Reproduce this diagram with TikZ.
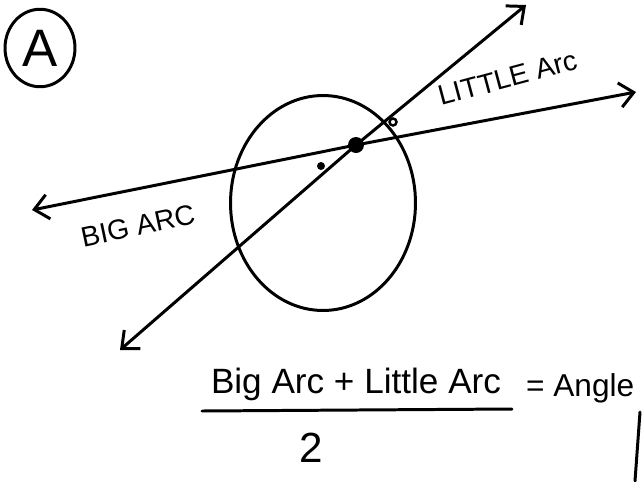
\documentclass[tikz,border=0pt]{standalone}
\usepackage{fontspec}
\setmainfont{Liberation Sans}
\usetikzlibrary{arrows.meta, positioning, shapes.geometric}

\begin{document}
\begin{tikzpicture}[x=0.02cm, y=-0.02cm,
  pen/.style={line width=1.7pt, line cap=round, line join=round},
  ray/.style={pen, {Straight Barb[length=8pt,width=14pt]}-{Straight Barb[length=8pt,width=14pt]}},
  hand/.style={font=\fontsize{#1}{#1}\selectfont, inner sep=1pt},
  hand/.default=18,
  dot/.style={circle, fill, inner sep=0pt, minimum size=#1},
]
\useasboundingbox (0,0) rectangle (643,481);

% tag in the corner
\node[pen, draw, ellipse, minimum width=1.4cm, minimum height=1.55cm, hand=30] (tag) at (40,48) {A};

% the circle and the two lines crossing inside it
\node[pen, draw, ellipse, minimum width=3.7cm, minimum height=4.3cm] (circ) at (323,203) {};
\node[dot=0.32cm] (o) at (356,145) {};
\node[dot=0.16cm] (bigdot) at (321,166) {};
\node[circle, draw, line width=1.4pt, inner sep=0pt, minimum size=0.14cm] (littledot) at (393,122) {};

\coordinate (w) at (32,210);
\coordinate (e) at (636,92);
\coordinate (sw) at (120,350);
\coordinate (ne) at (526,5);
\draw[ray] (w) -- (o.center) -- (e);
\draw[ray] (sw) -- (o.center) -- (ne);

% arc labels
\node[hand=16, rotate=15] (little) at (508,78) {LITTLE Arc};
\node[hand=16, rotate=12] (big) at (138,226) {BIG ARC};

% formula
\node[hand=20] (num) at (356,384) {Big Arc + Little Arc};
\coordinate (barl) at (202,411);
\coordinate (barr) at (512,409);
\draw[pen] (barl) -- (barr);
\node[hand=24] (two) at (311,448) {2};
\node[hand=18, anchor=west] (angle) at (524,388) {= Angle};

\coordinate (st) at (640,412);
\coordinate (sb) at (635,481);
\draw[pen] (st) -- (sb);
\end{tikzpicture}
\end{document}
